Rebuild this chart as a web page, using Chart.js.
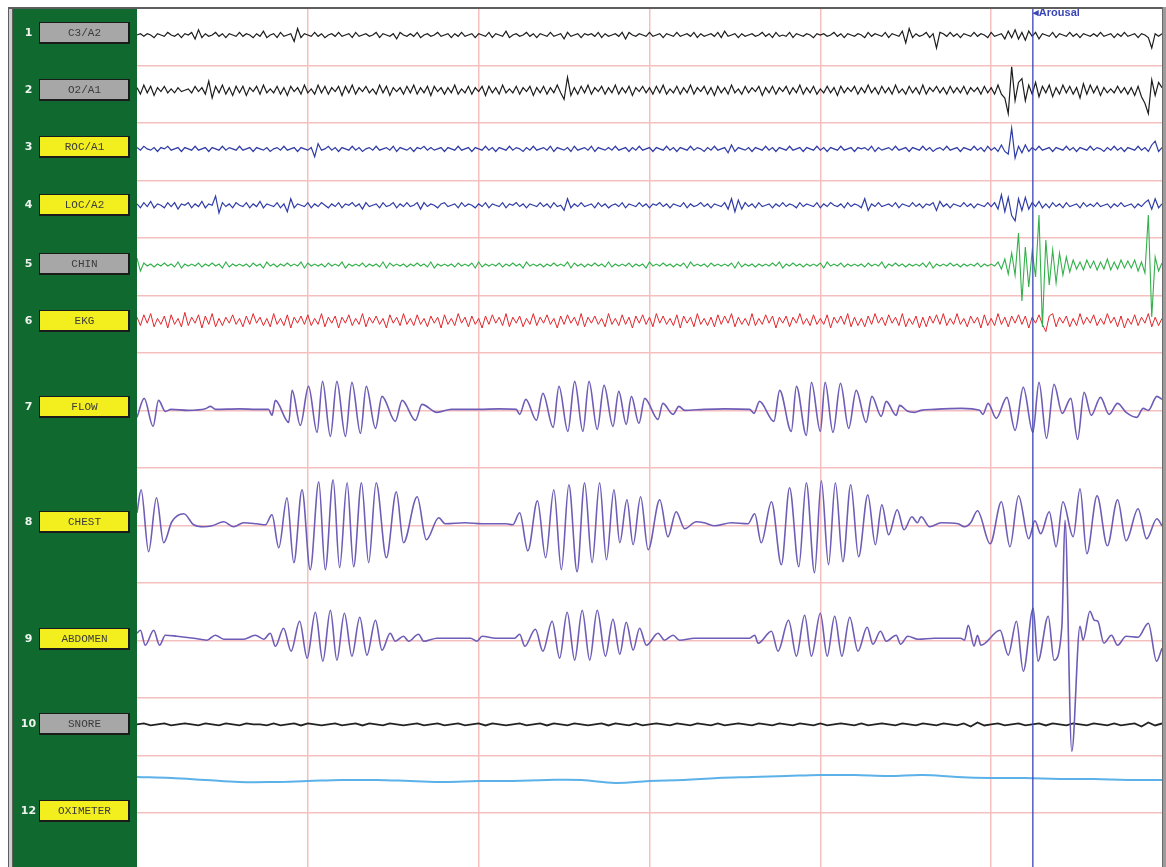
<!DOCTYPE html>
<html>
<head>
<meta charset="utf-8">
<script src="https://cdn.jsdelivr.net/npm/chart.js@4.4.1/dist/chart.umd.min.js"></script>
<style>
  html, body { margin: 0; padding: 0; background: #fff; overflow: hidden; }
</style>
</head>
<body>
<canvas id="psg" width="1166" height="867"></canvas>
<script>
// 1. Data (one 30 s epoch)
const labels = ['C3/A2', 'O2/A1', 'ROC/A1', 'LOC/A2', 'CHIN', 'EKG', 'FLOW', 'CHEST', 'ABDOMEN', 'SNORE', 'OXIMETER'];
const channelNumbers = ['1', '2', '3', '4', '5', '6', '7', '8', '9', '10', '12'];
const buttonTone = ['gray', 'gray', 'yellow', 'yellow', 'gray', 'yellow', 'yellow', 'yellow', 'yellow', 'gray', 'yellow'];
const arousalTime = 26.22; // s
const eegStep = 0.1;  // s per sample
const snoreStep = 0.2;
const oxiStep = 1;

const c3 = [
  0,1,-1,1,0,-2,1,0,-1,2,  0,-1,1,-2,1,0,2,-3,4,-2,  1,-1,0,2,-1,1,-2,1,0,-1,
  2,-1,1,0,-2,1,-1,3,-2,0,  1,-2,2,-1,0,1,-5,5,-2,1,  0,-1,2,-1,1,-2,0,1,-1,2,
  -1,0,1,-2,2,-1,0,1,-1,0,  2,-2,1,0,-1,1,-3,2,0,-1,  1,-1,2,-2,0,1,-1,0,2,-1,
  0,1,-2,1,-1,2,-1,0,1,-2,  1,0,-1,2,-2,1,0,-1,3,-2,  0,1,-1,0,2,-1,1,-2,1,0,
  -1,2,-1,0,1,-3,2,-1,0,1,  -2,1,0,1,-1,2,-2,1,-1,0,  1,-1,2,-3,2,0,-1,1,0,-1,
  2,-1,0,1,-2,1,0,-1,2,-1,  0,1,-1,2,-2,1,-1,0,1,-1,  2,-2,3,-1,0,1,-2,1,-1,0,
  1,-1,0,2,-1,1,-2,2,-1,0,  -1,2,-2,1,0,-1,1,0,-2,1,  0,1,-1,0,2,-1,1,-2,1,0,
  -1,1,0,-2,2,-1,1,0,-1,2,  -2,1,0,-1,3,-6,5,-2,1,-1,  0,2,-2,1,-10,2,1,-1,2,-1,
  1,-2,1,0,-1,2,-1,1,0,-2,  2,-1,0,1,-3,3,-2,4,-3,2,  -4,3,-1,2,-3,1,0,-1,2,-2,
  1,0,-1,2,-1,1,-2,1,0,-1,  1,-1,2,-1,0,1,-2,1,-1,2,  -1,0,1,-2,1,0,-2,-10,1,-1,
  1
];
const o2 = [
  2,-3,4,-2,3,-4,2,-1,3,-2,  1,-2,2,-1,0,1,-2,3,-1,2,  -3,7,-6,3,-2,4,-3,2,-4,3,
  -2,3,-4,2,-1,3,-3,4,-2,1,  -2,3,-3,2,-4,3,-1,2,-3,4,  -2,1,-3,4,-2,3,-3,2,-1,3,
  -4,3,-2,4,-3,2,-1,3,-2,1,  -3,4,-2,3,-4,2,-1,2,-3,3,  -2,4,-3,2,-2,3,-4,3,-1,2,
  -3,2,-2,4,-3,1,-2,3,-3,2,  -1,3,-4,3,-2,2,-3,4,-2,1,  -2,3,-3,2,-1,3,-4,2,-2,3,
  -3,2,-2,4,-2,-7,10,-4,2,-3,  3,-2,4,-3,2,-1,3,-3,2,-2,  4,-3,2,-2,3,-4,2,-1,3,-2,
  2,-3,3,-2,4,-3,1,-2,3,-3,  2,-2,4,-3,2,-1,3,-3,2,-4,  3,-2,2,-3,4,-2,1,-3,3,-2,
  2,-1,3,-4,2,-2,3,-3,2,-1,  3,-3,2,-2,4,-3,2,-2,3,-3,  1,-2,3,-2,2,-4,3,-2,2,-1,
  3,-3,2,-2,4,-2,2,-3,3,-2,  2,-3,4,-2,1,-3,3,-2,2,-3,  4,-3,2,-1,3,-2,2,-3,3,-2,
  2,-2,3,-3,2,-1,2,-3,3,-2,  2,-3,4,-3,-6,-18,18,-8,6,9,  -8,4,-3,6,-5,3,-2,4,-5,2,
  -3,4,-2,3,-3,2,-6,5,-3,4,  -2,3,-4,2,-2,1,-2,3,-2,2,  -3,2,-4,3,-5,-10,-18,8,-4,6,
  2
];
const roc = [
  1,-1,2,0,-1,1,-2,1,0,2,  -1,0,1,-2,1,0,-1,2,-1,0,  1,-2,1,0,-1,2,-1,1,0,-1,
  2,-1,0,1,-2,1,0,-1,1,-2,  0,1,-1,2,-1,0,1,-2,1,0,  -1,1,-6,4,-1,0,2,-1,1,-2,
  1,0,-1,2,-1,1,-2,0,1,-1,  2,-1,0,1,-1,2,-2,1,0,-1,  1,-2,1,0,2,-1,1,-1,0,1,
  -2,1,0,-1,2,-1,0,1,-2,1,  0,-1,2,-1,1,-2,1,0,-1,2,  -1,1,0,-2,1,-1,2,-1,0,1,
  -1,2,-2,1,0,-1,1,-2,2,-1,  0,1,-1,2,-2,1,0,-1,1,-1,  2,-1,0,1,-2,1,-1,2,-1,0,
  1,-2,1,0,-1,2,-1,1,-2,1,  0,-1,2,-1,1,0,-2,1,-1,2,  -1,0,1,-3,3,-2,1,0,-1,1,
  -2,1,0,-1,2,-1,1,-2,1,0,  -1,2,-1,0,1,-2,1,0,-1,2,  -1,1,-2,1,0,-1,2,-1,0,1,
  -2,1,0,1,-1,2,-2,1,-1,0,  1,-1,2,-1,0,1,-2,1,0,-1,  2,-1,1,-2,0,1,-1,2,-1,0,
  1,-2,1,0,-1,2,-1,1,-2,2,  -1,1,-2,3,-2,-4,16,-7,2,-3,  3,-2,1,-1,2,-1,0,1,-2,1,
  0,-1,2,-1,1,-2,1,0,-1,2,  -1,1,0,-2,1,-1,2,-1,1,-2,  1,0,-1,2,-1,1,-2,3,6,-2,
  1
];
const loc = [
  1,-2,2,-1,3,-2,1,0,-2,2,  -1,2,-3,1,0,2,-2,1,-1,3,  -2,1,0,7,-6,2,-1,1,-2,2,
  0,-1,2,-2,1,-1,3,-2,1,0,  -1,2,-2,1,-5,5,-2,1,0,-1,  2,-2,1,-1,2,0,-2,1,-1,2,
  -2,1,0,2,-1,1,-3,2,-1,0,  1,-2,2,-1,0,2,-2,1,-1,2,  -1,0,2,-3,2,-1,1,0,-2,1,
  2,-1,0,1,-2,2,-1,1,0,-2,  1,-1,2,-2,1,0,-1,2,-2,1,  0,2,-1,1,-2,1,0,-1,2,-1,
  1,-2,2,-1,0,-4,5,-2,1,-1,  2,-1,0,1,-2,2,-1,1,-2,0,  1,-1,2,-2,1,0,-1,2,-1,1,
  -2,1,0,2,-1,1,-2,1,0,-1,  2,-2,1,-1,0,2,-1,1,-2,1,  0,-1,2,-3,5,-5,4,-3,2,-1,
  1,-2,2,-1,0,1,-2,1,-1,2,  -1,1,0,-2,2,-1,1,0,-1,2,  -2,1,-1,2,0,-1,1,-2,2,-1,
  1,0,-2,5,-4,1,-1,2,-1,0,  1,-1,2,-2,1,0,-1,2,-1,1,  -2,1,0,2,-4,3,-1,1,-2,1,
  0,-1,2,-1,1,-2,1,0,-1,2,  -1,2,-3,8,-5,6,-8,-12,5,-4,  6,-3,2,-1,3,-2,1,-2,2,-1,
  1,-2,2,-1,0,1,-2,2,-1,1,  -1,2,-1,0,1,-2,1,-1,2,-1,  0,1,-2,1,-1,2,4,-3,5,-2,
  1
];
const chin = [
  7,-6,2,-1,1,-2,1,-1,2,-1,  1,-2,3,-3,1,-1,1,-1,2,-2,  1,-1,2,-1,1,-3,3,-2,1,-1,
  1,-1,1,-2,2,-1,1,-3,3,-1,  1,-2,1,-1,2,-1,1,-1,3,-3,  2,-1,1,-1,1,-2,2,-1,1,-1,
  3,-3,1,-1,1,-1,2,-2,1,-1,  1,-2,3,-3,2,-1,1,-1,1,-2,  1,-1,2,-1,1,-2,3,-3,1,-1,
  1,-1,1,-2,2,-1,1,-1,2,-3,  3,-2,1,-1,1,-1,2,-2,1,-1,  2,-1,1,-3,3,-1,1,-1,1,-2,
  1,-1,2,-1,1,-1,3,-3,2,-1,  1,-2,1,-1,2,-1,1,-2,3,-2,  1,-1,1,-1,2,-2,1,-1,1,-3,
  3,-1,1,-1,2,-1,1,-2,1,-1,  2,-3,3,-1,1,-1,1,-2,2,-1,  1,-1,1,-1,2,-3,3,-2,1,-1,
  1,-2,1,-1,1,-1,2,-1,3,-3,  1,-1,2,-1,1,-2,1,-1,1,-1,  2,-3,3,-1,1,-1,2,-2,1,-1,
  1,-1,1,-2,2,-1,1,-1,3,-3,  1,-1,2,-1,1,-2,1,-1,1,-1,  2,-2,3,-3,1,-1,1,-1,2,-1,
  1,-2,1,-1,1,-1,2,-2,1,-1,  1,-1,3,-4,6,-9,12,-10,32,-36,  18,-22,14,-12,50,-62,25,-20,15,-18,
  12,-10,8,-7,5,-4,3,-5,5,-3,  4,-5,3,-4,6,-5,3,-4,5,-3,  4,-3,5,-6,3,-8,50,-52,8,-6,
  2
];
const ekg = [
  3,-4,5,-2,6,-5,2,-3,4,-6,  5,-3,2,-5,7,-4,3,-2,5,-6,  4,-3,6,-5,2,-4,3,-2,5,-3,
  2,-5,4,-3,6,-2,3,-4,2,-5,  6,-3,2,-4,5,-6,3,-2,4,-3,  5,-4,2,-3,6,-5,3,-2,4,-6,
  3,-2,5,-4,2,-3,6,-5,3,-2,  4,-3,2,-6,5,-2,3,-4,6,-3,  2,-4,5,-3,2,-5,4,-2,3,-6,
  5,-3,2,-4,6,-2,3,-5,4,-3,  2,-6,4,-3,5,-2,3,-4,6,-5,  3,-2,4,-5,2,-3,6,-4,3,-2,
  5,-3,2,-6,4,-3,5,-2,3,-4,  6,-5,3,-2,4,-3,2,-5,6,-3,  2,-4,5,-3,3,-6,4,-2,5,-3,
  3,-5,6,-2,4,-3,2,-4,5,-6,  4,-2,3,-5,6,-3,2,-4,3,-5,  5,-3,4,-2,6,-5,3,-3,2,-4,
  6,-4,2,-3,5,-2,4,-6,3,-2,  4,-5,3,-2,6,-3,2,-4,5,-3,  2,-3,5,-6,3,-2,4,-3,6,-5,
  3,-4,2,-5,4,-3,6,-2,3,-4,  5,-2,3,-4,6,-5,2,-3,4,-6,  3,-5,4,-2,5,-3,6,-4,2,-3,
  6,-3,2,-5,4,-2,3,-6,5,-4,  2,-4,6,-3,3,-5,4,-2,5,-3,  4,-6,3,-2,5,-3,-9,4,6,-5,
  3,-2,4,-5,2,-4,6,-3,3,-2,  5,-4,2,-3,6,-2,3,-5,4,-6,  2,-3,5,-4,3,-2,6,-5,3,-4,
  2
];
const snore = [
  0,1,-1,0,1,-1,0,1,0,-1,  1,0,-1,1,0,-1,1,0,0,-1,  1,-1,0,1,-1,1,0,-1,0,1,
  -1,0,1,-1,1,0,-1,1,0,-1,  0,1,-1,0,1,-1,0,1,-1,0,  1,-1,1,0,-1,0,1,-1,0,1,
  -1,1,0,-1,1,0,-1,0,1,-1,  1,0,-1,1,-1,0,1,0,-1,1,  0,-1,1,0,-1,1,-1,0,1,0,
  -1,1,0,-1,1,0,-1,1,0,-1,  1,-1,0,1,0,-1,1,-1,0,1,  0,-1,1,0,-1,1,0,-1,1,0,
  -1,1,-2,2,-1,0,1,-1,0,1,  -1,0,1,-1,1,0,-1,1,0,-1,  1,0,-1,1,-1,0,1,-2,2,-1,
  1
];
// SpO2 %, one reading per second
const spo2 = [95, 94.75, 94.25, 93.75, 93.75, 94, 94.25, 94.25, 94, 93.75, 94, 94, 94.25, 94.25, 93.5, 94,
  94.25, 94.75, 95, 95.25, 95.5, 95.5, 95.25, 95.5, 95, 94.75, 94.75, 94.5, 94.5, 94.25, 94.25];

// respiratory channels: [time s, deflection] at turning points
const flow = [[0,-8],[0.21,11],[0.47,-17],[0.63,9],[0.83,-2],[1.0,0],[1.5,-1],[2.0,0.5],[2.15,3],[2.3,0],[3.0,0.5],[3.5,0],
  [3.85,0],[3.95,-6],[4.05,9],[4.44,-13],[4.54,19],[4.78,-16],[5.02,23],[5.27,-23],[5.43,28],[5.66,-27],[5.85,28],[6.10,-27],
  [6.29,27],[6.54,-24],[6.71,23],[6.98,-19],[7.17,13],[7.56,-12],[7.76,9],[8.15,-11],[8.34,5],[8.78,-3],[9.2,0],[10.0,0],[10.6,0.5],
  [11.1,0],[11.20,-5],[11.38,10],[11.69,-11],[11.88,16],[12.18,-18],[12.35,23],[12.61,-22],[12.81,28],[13.05,-22],[13.23,28],
  [13.47,-20],[13.67,24],[13.93,-17],[14.10,18],[14.32,-15],[14.47,13],[14.69,-14],[14.86,11],[15.25,-10],[15.39,6],[15.69,-5],
  [15.86,3],[16.03,-1],[16.6,0],[17.2,0.5],[17.93,0],[18.06,-4],[18.22,8],[18.64,-12],[18.81,19],[19.15,-22],[19.30,23],
  [19.59,-26],[19.74,27],[20.0,-22],[20.14,27],[20.37,-23],[20.59,26],[20.83,-19],[21.05,19],[21.34,-13],[21.51,13],[21.78,-7],
  [21.93,8],[22.22,-6],[22.32,4],[22.56,-2],[22.76,-3],[22.95,-1],[23.34,0],[24.13,1],[24.66,-1],[24.76,-5],[24.91,6],[25.15,-9],
  [25.46,12],[25.7,-21],[25.94,22],[26.22,-23],[26.4,27],[26.62,-29],[26.84,25],[27.08,-4],[27.33,11],[27.53,-30],[27.72,17],
  [27.93,-6],[28.2,12],[28.45,-5],[28.7,6],[28.95,-3],[29.26,-8],[29.45,1],[29.6,-1],[29.85,13],[30,10]];
const chest = [[0,11],[0.12,34],[0.34,-28],[0.57,26],[0.78,-19],[1.02,2],[1.37,10],[1.66,-1],[1.95,-3],[2.2,-2],[2.54,2],[2.83,-3],
  [3.12,1],[3.5,0],[3.76,-1],[3.95,9],[4.15,-24],[4.39,26],[4.59,-39],[4.83,34],[5.07,-46],[5.32,42],[5.51,-46],[5.74,44],
  [5.93,-44],[6.15,41],[6.34,-43],[6.57,41],[6.78,-39],[7.00,41],[7.30,-34],[7.59,32],[7.80,-19],[8.20,27],[8.47,-16],[8.83,6],
  [9.02,0],[9.6,1],[10.1,0],[10.8,0],[11.0,-1],[11.20,11],[11.44,-27],[11.72,23],[11.96,-34],[12.20,34],[12.42,-46],[12.64,39],
  [12.88,-48],[13.10,41],[13.32,-39],[13.54,41],[13.74,-36],[13.96,34],[14.13,-19],[14.34,24],[14.52,-21],[14.74,27],[14.96,-26],
  [15.30,24],[15.54,-13],[15.78,12],[16.03,-5],[16.37,2],[16.6,1],[16.91,-2],[17.40,1],[17.88,0],[18.08,10],[18.27,-19],
  [18.57,22],[18.86,-41],[19.10,36],[19.37,-43],[19.59,41],[19.83,-49],[20.03,43],[20.24,-41],[20.44,41],[20.66,-38],[20.89,39],
  [21.12,-33],[21.39,29],[21.61,-21],[21.80,19],[22.00,-11],[22.25,14],[22.45,-6],[22.68,7],[22.84,1],[22.95,7],[23.20,-3],
  [23.54,1],[24.03,0],[24.22,-3],[24.4,1],[24.6,13],[24.97,-20],[25.3,22],[25.55,-23],[25.8,28],[26.1,-15],[26.28,3],[26.45,-10],
  [26.7,12],[26.9,-23],[27.1,22],[27.4,-13],[27.6,35],[27.8,-30],[28.1,28],[28.4,-22],[28.7,24],[28.95,-17],[29.3,15],
  [29.55,-15],[29.85,5],[30,-2]];
const abdomen = [[0,5],[0.10,8],[0.24,-7],[0.49,8],[0.66,-7],[0.83,3],[1.17,2],[1.66,0],[2.05,-2],[2.29,3],[2.54,-1],[3.12,-1],
  [3.46,3],[3.71,-1],[3.90,5],[4.05,-8],[4.29,10],[4.51,-13],[4.76,17],[4.98,-20],[5.22,26],[5.44,-23],[5.66,28],[5.85,-22],
  [6.07,25],[6.29,-18],[6.52,21],[6.73,-17],[6.98,18],[7.17,-12],[7.41,5],[7.56,-3],[7.80,2],[7.95,-3],[8.24,4],[8.39,-3],
  [8.78,0],[9.76,0],[9.95,-3],[10.10,2],[10.5,0],[11.05,0],[11.20,4],[11.35,-8],[11.66,9],[11.88,-13],[12.15,17],[12.37,-20],
  [12.59,26],[12.81,-22],[13.03,28],[13.25,-22],[13.47,28],[13.71,-18],[13.93,19],[14.13,-16],[14.32,16],[14.52,-12],[14.71,10],
  [14.91,-7],[15.25,5],[15.44,-2],[15.69,3],[15.88,-2],[16.32,0],[17.93,0],[18.08,3],[18.18,-5],[18.57,7],[18.76,-13],[19.07,18],
  [19.30,-18],[19.54,23],[19.74,-18],[20.0,25],[20.20,-18],[20.42,22],[20.63,-18],[20.86,21],[21.10,-13],[21.37,11],[21.54,-6],
  [21.76,7],[21.93,-3],[22.22,3],[22.35,-6],[22.56,2],[22.86,-1],[23.34,0],[24.1,0],[24.22,-2],[24.33,13],[24.5,-8],[24.6,3],
  [24.7,-7],[25.26,8],[25.5,-17],[25.74,17],[25.94,-33],[26.23,30],[26.37,-23],[26.67,22],[26.84,-22],[27.07,12],[27.16,118],
  [27.36,-113],[27.6,12],[27.69,-2],[27.89,27],[28.02,18],[28.12,17],[28.3,-5],[28.52,3],[28.7,-7],[28.95,2],[29.3,1],
  [29.6,15],[29.84,-23],[30,-10]];

// 2. Layout of the montage (rows of 57.5 px, row 0 at the top)
const ROW = 57.5;
const Y_MAX = 859 / ROW;
const labelRows = [0.41, 1.40, 2.40, 3.41, 4.43, 5.43, 6.92, 8.93, 10.95, 12.43, 13.95];
const GRID_PINK = '#f5bfbf';

function sampled(vals, step, base, gain) {
  return vals.map((v, i) => ({ x: i * step, y: base - v * gain / ROW }));
}
function turning(pts, base) {
  return pts.map(p => ({ x: p[0], y: base - p[1] / ROW }));
}

const eegLine = (label, data, color, width) => ({
  label, data, borderColor: color, borderWidth: width, tension: 0, pointRadius: 0
});
const respLine = (label, data) => ({
  label, data, borderColor: '#6e5cb6', borderWidth: 1.6, cubicInterpolationMode: 'monotone', tension: 0.4, pointRadius: 0
});

const datasets = [
  { label: 'Arousal', data: [{ x: arousalTime, y: 0 }, { x: arousalTime, y: Y_MAX }], borderColor: '#3944b4', borderWidth: 1.3, pointRadius: 0 },
  eegLine('C3/A2', sampled(c3, eegStep, 0.47, 1.3), '#1c1c1c', 1.2),
  eegLine('O2/A1', sampled(o2, eegStep, 1.43, 1.3), '#1c1c1c', 1.2),
  eegLine('ROC/A1', sampled(roc, eegStep, 2.45, 1.3), '#2f3ca6', 1.2),
  eegLine('LOC/A2', sampled(loc, eegStep, 3.43, 1.3), '#2f3ca6', 1.2),
  eegLine('CHIN', sampled(chin, eegStep, 4.47, 1), '#33b04a', 1.1),
  eegLine('EKG', sampled(ekg, eegStep, 5.44, 1.2), '#e0262c', 1),
  respLine('ABDOMEN', turning(abdomen, 10.96)),
  respLine('CHEST', turning(chest, 8.97)),
  respLine('FLOW', turning(flow, 6.98)),
  eegLine('SNORE', sampled(snore, snoreStep, 12.46, 1), '#222222', 1.8),
  { label: 'OXIMETER', data: spo2.map((v, i) => ({ x: i * oxiStep, y: 14 - (v - 86) * 4 / ROW })),
    borderColor: '#5cb2e8', borderWidth: 2, tension: 0.4, pointRadius: 0 }
];

// 3. Left channel panel, frame and arousal tag
const panelPlugin = {
  id: 'panel',
  afterDraw: (chart) => {
    const { ctx, chartArea, scales } = chart;
    const y = scales.y;
    ctx.save();

    // arousal tag, clipped by the top of the page like the original
    ctx.save();
    ctx.beginPath();
    ctx.rect(chartArea.left, chartArea.top + 1, chartArea.right - chartArea.left, 30);
    ctx.clip();
    ctx.fillStyle = '#3a46b8';
    ctx.font = 'bold 11px "Liberation Sans"';
    ctx.textAlign = 'left';
    ctx.textBaseline = 'alphabetic';
    ctx.fillText('\u25C2Arousal', scales.x.getPixelForValue(arousalTime), 16);
    ctx.restore();

    // frame
    ctx.fillStyle = '#5e5e5e';
    ctx.fillRect(8, 7, 1156, 2);
    ctx.fillRect(8, 7, 5, 860);
    ctx.fillStyle = '#cfcfcf';
    ctx.fillRect(9, 9, 3, 858);
    ctx.fillStyle = '#9c9c9c';
    ctx.fillRect(1162, 7, 4, 860);
    ctx.fillStyle = '#6a6a6a';
    ctx.fillRect(1162, 7, 1, 860);

    // green panel
    ctx.fillStyle = '#10692f';
    ctx.fillRect(13, 9, chartArea.left - 13, 858);

    labels.forEach((name, i) => {
      const cy = Math.round(y.getPixelForValue(labelRows[i]));
      const bx = 39, bw = 89, bh = 20, by = cy - 10;
      ctx.fillStyle = '#1b1b1b';
      ctx.fillRect(bx, by, bw + 2, bh + 2);
      ctx.fillStyle = buttonTone[i] === 'gray' ? '#a7a7a7' : '#f3ef1e';
      ctx.fillRect(bx + 1, by + 1, bw - 1, bh - 1);

      ctx.fillStyle = '#3b3b3b';
      ctx.font = '11px "Liberation Mono"';
      ctx.textAlign = 'center';
      ctx.textBaseline = 'middle';
      ctx.fillText(name, bx + bw / 2 + 1, cy + 1);

      ctx.fillStyle = '#eef3ee';
      ctx.font = 'bold 11px "DejaVu Sans"';
      ctx.fillText(channelNumbers[i], 28.5, cy + 1);
    });
    ctx.restore();
  }
};

// 4. Chart
new Chart(document.getElementById('psg').getContext('2d'), {
  type: 'line',
  data: { datasets: datasets },
  options: {
    responsive: false,
    animation: false,
    events: [],
    layout: { padding: { left: 137, top: 8, right: 4, bottom: 0 } },
    scales: {
      x: {
        type: 'linear', min: 0, max: 30,
        ticks: { display: false, stepSize: 5 },
        grid: { drawTicks: false, lineWidth: 1.5, color: (c) => (c.tick && c.tick.value > 0 && c.tick.value < 30) ? GRID_PINK : 'rgba(0,0,0,0)' },
        border: { display: false }
      },
      y: {
        type: 'linear', min: 0, max: Y_MAX, reverse: true,
        ticks: { display: false, stepSize: 1 },
        grid: { drawTicks: false, lineWidth: 1.5, color: (c) => (c.tick && Number.isInteger(c.tick.value) && c.tick.value > 0) ? GRID_PINK : 'rgba(0,0,0,0)' },
        border: { display: false }
      }
    },
    plugins: { legend: { display: false }, tooltip: { enabled: false } }
  },
  plugins: [panelPlugin]
});
</script>
</body>
</html>
